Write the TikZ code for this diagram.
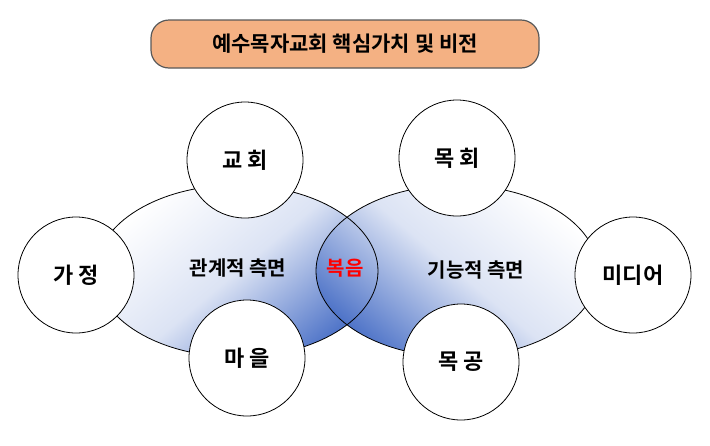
\documentclass[tikz,border=0pt]{standalone}
\usepackage{fontspec}
\setmainfont{Noto Sans CJK KR}[BoldFont={Noto Sans CJK KR Bold}]
\usetikzlibrary{shapes.geometric}
\definecolor{salmon}{HTML}{F4B183}
\definecolor{ebl}{HTML}{4F74C8}
\tikzset{
 circ/.style={circle,draw=black,line width=0.8pt,fill=white,minimum size=116pt,inner sep=0pt,font=\bfseries\fontsize{22}{26}\selectfont},
 ell/.style={ellipse,minimum width=282pt,minimum height=172pt,inner sep=0pt},
 lbl/.style={font=\bfseries\fontsize{20}{24}\selectfont}
}
\begin{document}
\begin{tikzpicture}[x=1pt,y=-1pt]
\useasboundingbox (0,0) rectangle (710,445);
\node[draw=gray!70!black,line width=1.2pt,fill=salmon,rounded corners=18pt,minimum width=388pt,minimum height=48pt,font=\bfseries\fontsize{21}{24}\selectfont] (title) at (345,44) {예수목자교회 핵심가치 및 비전};
\node[ell,top color=white,bottom color=ebl,middle color=ebl!20,shading angle=40] (L) at (237,271) {};
\node[ell,top color=white,bottom color=ebl,middle color=ebl!20,shading angle=-40] (R) at (457,271) {};
\node[ell,draw=black,line width=0.8pt] at (L) {};
\node[ell,draw=black,line width=0.8pt] at (R) {};
\node[lbl] (lt) at (238,268) {관계적 측면};
\node[lbl] (rt) at (476,270) {기능적 측면};
\node[lbl,text=red] (g) at (345,268) {복음};
\node[circ] (c1) at (245,160) {교 회};
\node[circ] (c2) at (457,158) {목 회};
\node[circ] (c3) at (76,275) {가 정};
\node[circ] (c4) at (633,275) {미디어};
\node[circ] (c5) at (247,358) {마 을};
\node[circ] (c6) at (461,362) {목 공};
\end{tikzpicture}
\end{document}
